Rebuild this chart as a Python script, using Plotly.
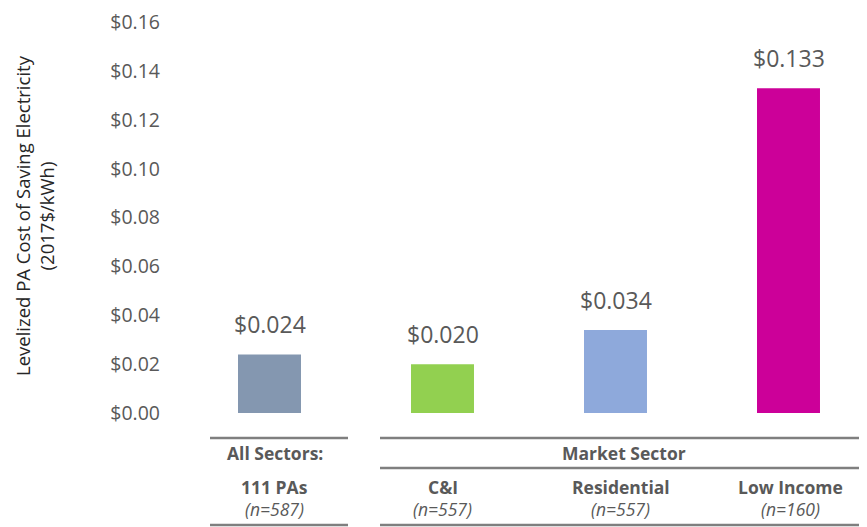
import plotly.graph_objects as go

categories = ["All Sectors", "C&I", "Residential", "Low Income"]
values = [0.024, 0.020, 0.034, 0.133]
bar_colors = ["#8497B0", "#92D050", "#8EA9DB", "#CC0099"]
row1_labels = ["111 PAs", "C&I", "Residential", "Low Income"]
row2_labels = ["(n=587)", "(n=557)", "(n=557)", "(n=160)"]
y_ticks = [0, 0.02, 0.04, 0.06, 0.08, 0.10, 0.12, 0.14, 0.16]
y_tick_text = [f"${v:.2f}" for v in y_ticks]

FONT = "Open Sans"
GRAY = "#595959"

xs = list(range(len(categories)))
label_shift = [5, 0, 5, 2]

# page coordinates: the page body adds an 8px offset
L = 175
T = 14
PLOT_W = 692
PLOT_BOTTOM_PAGE = 413
PLOT_H = 391


def xpaper(px):
    return (px - 8 - L) / PLOT_W


def ypaper(py):
    return (PLOT_BOTTOM_PAGE - py) / PLOT_H


fig = go.Figure()
fig.add_trace(go.Bar(
    x=xs, y=values, marker=dict(color=bar_colors, line=dict(width=0)),
    width=0.364, hoverinfo="skip", showlegend=False,
))

annotations = []
for x, v in zip(xs, values):
    annotations.append(dict(
        x=x, y=v, xref="x", yref="y", text=f"${v:.3f}", showarrow=False,
        yanchor="bottom", yshift=12, font=dict(family=FONT, size=23, color=GRAY),
    ))

TF = dict(family=FONT, size=17.5, color=GRAY)
annotations.append(dict(x=0, y=ypaper(453), xref="x", yref="paper", xshift=label_shift[0],
                        yanchor="middle", text="<b>All Sectors:</b>", showarrow=False, font=TF))
annotations.append(dict(x=(xpaper(380) + xpaper(867)) / 2, y=ypaper(453),
                        xref="paper", yref="paper", yanchor="middle", xanchor="center",
                        text="<b>Market Sector</b>", showarrow=False, font=TF))
for x, r1, r2, s in zip(xs, row1_labels, row2_labels, label_shift):
    annotations.append(dict(x=x, y=ypaper(487), xref="x", yref="paper", xshift=s,
                            yanchor="middle", text=f"<b>{r1}</b>", showarrow=False, font=TF))
    annotations.append(dict(x=x, y=ypaper(509), xref="x", yref="paper", xshift=s,
                            yanchor="middle", text=f"<i>{r2}</i>", showarrow=False, font=TF))

annotations.append(dict(
    x=xpaper(34), y=ypaper(216), xref="paper", yref="paper", xanchor="center", yanchor="middle",
    text="Levelized PA Cost of Saving Electricity<br>(2017$/kWh)",
    textangle=-90, showarrow=False,
    font=dict(family=FONT, size=18.5, color="#262626"),
))

line_style = dict(color="#7F7F7F", width=2.5)
shapes = []
for (a, b) in [(210, 348), (380, 867)]:
    for py in ([438, 525] if a == 210 else [438, 468, 525]):
        shapes.append(dict(type="line", xref="paper", yref="paper",
                           x0=xpaper(a), x1=xpaper(b), y0=ypaper(py), y1=ypaper(py),
                           line=line_style))

fig.update_layout(
    width=867, height=527,
    margin=dict(l=L, r=0, t=T, b=527 - T - PLOT_H, autoexpand=False),
    paper_bgcolor="white", plot_bgcolor="white",
    annotations=annotations, shapes=shapes,
    xaxis=dict(range=[-0.5, 3.5], showticklabels=False, showgrid=False,
               zeroline=False, showline=False, ticks=""),
    yaxis=dict(range=[0, 0.1601], tickvals=y_ticks, ticktext=y_tick_text,
               showgrid=False, zeroline=False, showline=False, ticks="",
               ticklabelstandoff=22, ticklabeloverflow="allow", automargin=False,
               tickfont=dict(family=FONT, size=19.5, color=GRAY)),
)

fig.write_html("out.html")
